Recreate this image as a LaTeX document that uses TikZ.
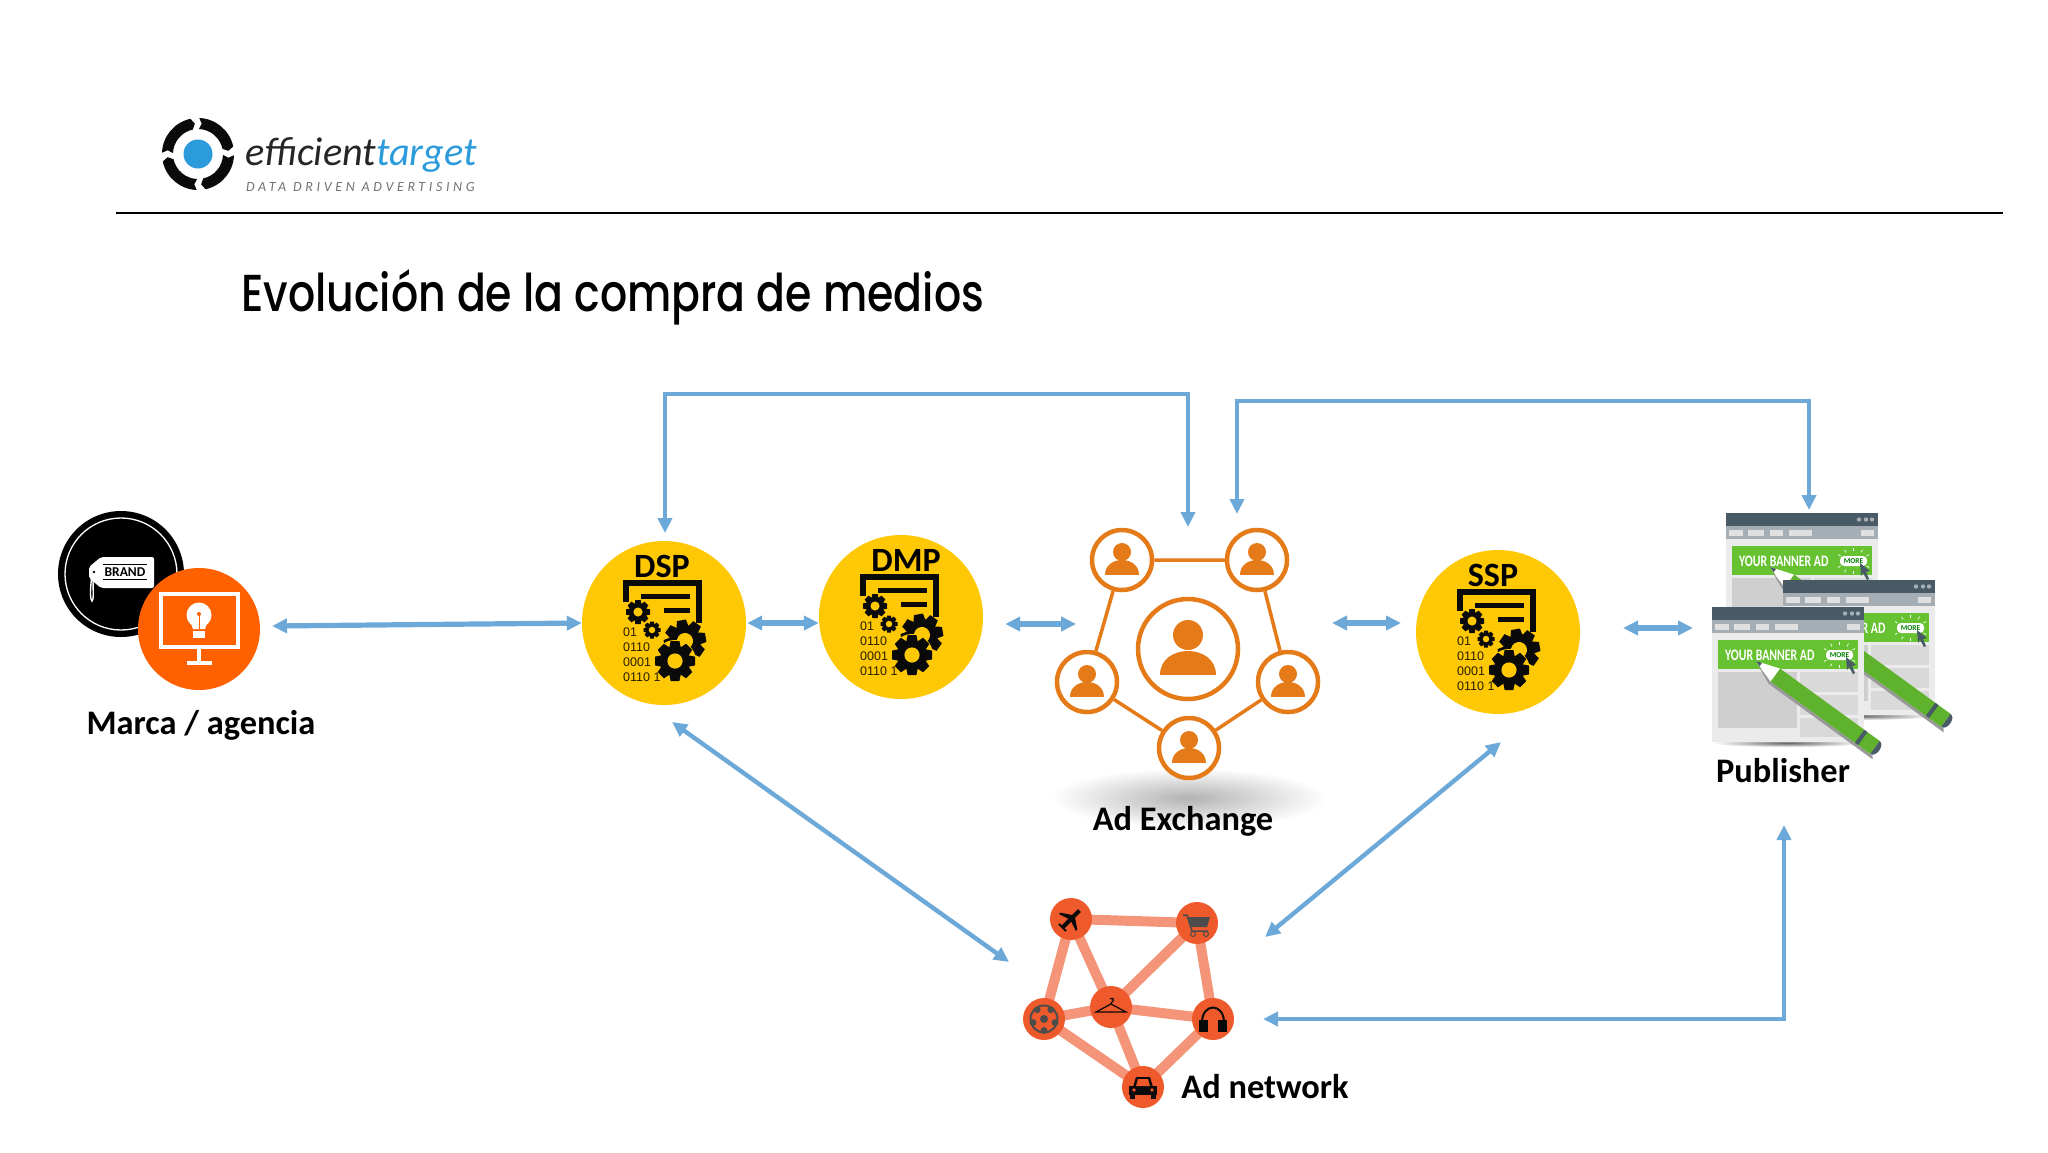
\documentclass[tikz,border=0pt]{standalone}
\usepackage{fontspec}
\setmainfont{Carlito}
\newfontfamily\titlefont[UprightFont=* Medium]{Poppins}
\newfontfamily\digitfont{Liberation Sans}
\usetikzlibrary{arrows.meta}
\usetikzlibrary{calc}
\usetikzlibrary{positioning}
\pgfdeclarelayer{background}
\pgfsetlayers{background,main}
\definecolor{arrowblue}{HTML}{6CA9D8}
\definecolor{logoblue}{HTML}{2C9BDB}
\definecolor{datayellow}{HTML}{FFC805}
\definecolor{brandorange}{HTML}{FF6000}
\definecolor{peopleorange}{HTML}{E57A18}
\definecolor{netnode}{HTML}{EE5A2B}
\definecolor{netlink}{HTML}{F4957A}
\definecolor{barslate}{HTML}{475A66}
\definecolor{barsilver}{HTML}{A5AEB5}
\definecolor{bannergreen}{HTML}{66C230}
\definecolor{iconblack}{HTML}{0A0A0A}
\tikzset{
  link/.style={draw=arrowblue,line width=4.4pt,{Triangle[length=15pt,width=14pt]}-{Triangle[length=15pt,width=14pt]}},
  thicklink/.style={link,line width=5.2pt},
  caption/.style={font=\fontsize{34.4}{36}\selectfont\bfseries,text=black,inner sep=0pt},
  icontext/.style={font=\fontsize{34}{36}\selectfont\bfseries,text=black,inner sep=0pt},
  datanode/.style={circle,fill=datayellow,minimum size=164pt,inner sep=0pt},
  peoplenode/.style={circle,draw=peopleorange,line width=4.5pt,fill=white,minimum size=60pt,inner sep=0pt},
  netball/.style={circle,fill=netnode,minimum size=42pt,inner sep=0pt},
  netedge/.style={draw=netlink,line width=10pt},
  gear/.pic={
    \foreach \a in {0,45,...,315}
      \fill[iconblack,rotate=\a] (-0.3,0.6) -- (-0.22,1) -- (0.22,1) -- (0.3,0.6) -- cycle;
    \fill[iconblack] (0,0) circle (0.74);
    \fill[datayellow] (0,0) circle (0.38);
  },
  dataicon/.pic={
    \draw[iconblack,line width=6pt] (-38,-21) -- (-38,-40) -- (35,-40) -- (35,0);
    \draw[iconblack,line width=5pt] (-23,-27) -- (26,-27);
    \draw[iconblack,line width=5pt] (0,-13) -- (26,-13);
    \pic[scale=12] at (-26,-11) {gear};
    \pic[scale=8.5] at (-12,7) {gear};
    \pic[scale=21,rotate=10] at (21,18) {gear};
    \fill[datayellow] (11,38) circle (21);
    \pic[scale=20] at (11,38) {gear};
    \node[font=\digitfont\fontsize{12.5}{14.8}\selectfont,align=left,anchor=north west,inner sep=0pt,text=black!85!datayellow] (bits) at (-41,5) {01\\0110\\0001\\0110 1};
  },
  person/.pic={
    \fill[peopleorange] (0,-8) circle (9);
    \fill[peopleorange] (-17,15) .. controls (-17,-5) and (17,-5) .. (17,15) -- cycle;
  },
  bigperson/.pic={
    \fill[peopleorange] (0,-14) circle (15);
    \fill[peopleorange] (-28,26) .. controls (-28,-6) and (28,-6) .. (28,26) -- cycle;
  },
  bannerwin/.pic={
    \shade[inner color=black!60,outer color=white] (76,136) ellipse (76 and 4);
    \fill[black!8] (0,0) rectangle (152,135);
    \fill[barslate] (0,0) rectangle (152,13);
    \fill[barsilver] (0,13) rectangle (152,26);
    \foreach \x in {133,140,146}
      \fill[barsilver] (\x,6.5) circle (2.2);
    \foreach \x/\w in {3/14,22/16,44/13,63/23,135/13}
      \fill[black!12] (\x,17) rectangle ++(\w,6);
    \fill[black!19] (6,65) rectangle (85,121);
    \foreach \y/\h in {65/20,88/20,111/19}
      \fill[black!15] (88,\y) rectangle (146,\y+\h);
    \fill[bannergreen] (6,33) rectangle (146,62);
    \node[font=\fontsize{16}{18}\selectfont\bfseries,text=white,inner sep=0pt,anchor=west] (bannertext) at (13,48) {\scalebox{0.735}[1]{YOUR BANNER AD}};
    \fill[white,rounded corners=4pt] (114,43) rectangle (141,53);
    \node[font=\fontsize{7.5}{9}\selectfont\bfseries,text=green!50!black,inner sep=0pt] (moretext) at (127.5,48) {MORE};
    \foreach \a in {-150,-120,-90,-60,-30,30,60,90,120,150}
      \draw[white,line width=0.7pt] (127.5,48) ++(\a:15 and 10) -- ++(\a:3);
    \fill[barslate] (134,50) -- (144,58) -- (140,59) -- (143,66) -- (141,67) -- (137,60) -- (135,63) -- cycle;
    % pencil
    \begin{scope}[shift={(44,54)},rotate=-36]
      \fill[black!40] (3,2) -- (24,8) -- (150,8) -- (152,11) -- (24,11) -- cycle;
      \fill[white] (0,0) -- (24,-8) -- (24,8) -- cycle;
      \fill[barslate] (0,0) -- (6,-2) -- (6,2) -- cycle;
      \fill[bannergreen!92!black] (24,-8) -- (147,-8) -- (147,8) -- (24,8) -- cycle;
      \fill[barslate] (128,-8) rectangle (132,8);
      \fill[barslate] (147,-8) .. controls (154,-8) and (154,8) .. (147,8) -- cycle;
    \end{scope}
  },
}
\begin{document}
\begin{tikzpicture}[x=1pt,y=-1pt]
  \useasboundingbox (0,0) rectangle (2048,1152);
  \begin{pgfonlayer}{background}
    \fill[white] (0,0) rectangle (2048,1152);
  \end{pgfonlayer}

  % logo and title
  \begin{scope}[shift={(198,154)}]
    \foreach \a in {-4,86,176,266}
      \fill[iconblack] (\a+6:36) arc[start angle=\a+6,end angle=\a+82,radius=36]
        -- (\a+88:30.5) -- (\a+82:25) arc[start angle=\a+82,end angle=\a+6,radius=25]
        -- (\a+11:30.5) -- cycle;
    \fill[logoblue] (0,0) circle (14.5);
  \end{scope}
  \node[font=\fontsize{40.3}{44}\selectfont\itshape,anchor=base west,inner sep=0pt] (logotext) at (245,165)
    {\textcolor{black!85}{efficient}\textcolor{logoblue}{target}};
  \node[font=\addfontfeatures{LetterSpace=26}\fontsize{14}{16}\selectfont\itshape,text=black!55,anchor=base west,inner sep=0pt] (tagline) at (246,191) {DATA DRIVEN ADVERTISING};
  \draw[line width=2pt] (116,213) -- (2003,213);
  \node[font=\titlefont\fontsize{52}{56}\selectfont,anchor=base west,inner sep=0pt] (title) at (241,311)
    {\scalebox{0.82}[1]{Evolución de la compra de medios}};

  % marca / agencia
  \node[circle,fill=black,minimum size=126pt,inner sep=0pt] (brand) at (121,574) {};
  \draw[white,line width=1.3pt] (brand) circle (56);
  \fill[white,rounded corners=2pt] (101,557) -- (154,557) -- (154,588) -- (101,588) -- (89,578) -- (89,567) -- cycle;
  \fill[black] (94,572) circle (1.3);
  \draw[white,line width=1.4pt] (92,574) .. controls (90,590) and (90,600) .. (92,601) .. controls (94,600) and (93,590) .. (93,578);
  \node[font=\fontsize{13.5}{15}\selectfont\bfseries,text=black,inner sep=0pt] (brandtext) at (125,572) {BRAND};
  \draw[black,line width=1pt] (103,564) -- (147,564) (103,579) -- (147,579);
  \node[circle,fill=brandorange,minimum size=122pt,inner sep=0pt,outer sep=12pt] (agency) at (199,629) {};
  \draw[white,line width=3.2pt] (161,594) rectangle (238,647);
  \draw[white,line width=3.2pt] (199,647) -- (199,663) (187,663) -- (212,663);
  \fill[white] (199,615) circle (12.5);
  \fill[white] (190,620) -- (208,620) -- (205,629) -- (193,629) -- cycle;
  \fill[white] (193,631) rectangle (205,638);
  \draw[brandorange,line width=1pt] (199,614) -- (199,629);
  \fill[brandorange] (199,614) circle (2);
  \node[caption,anchor=base] (marca) at (201,734) {Marca / agencia};

  % data circles
  \node[datanode] (dsp) at (664,623) {};
  \node[datanode] (dmp) at (901,617) {};
  \node[datanode] (ssp) at (1498,632) {};
  \pic (dspicon) at (dsp) {dataicon};
  \pic (dmpicon) at (dmp) {dataicon};
  \pic (sspicon) at (ssp) {dataicon};
  \node[icontext] (dsplabel) at ($(dsp)+(-2,-57)$) {DSP};
  \node[icontext] (dmplabel) at ($(dmp)+(5,-57)$) {DMP};
  \node[icontext] (ssplabel) at ($(ssp)+(-5,-57)$) {SSP};

  % ad exchange
  \shade[inner color=black!30,outer color=white] (1189,798) ellipse (138 and 30);
  \node[peoplenode,minimum size=100pt] (adx) at (1188,649) {};
  \node[peoplenode] (p1) at (1122,560) {};
  \node[peoplenode] (p2) at (1257,560) {};
  \node[peoplenode] (p3) at (1087,682) {};
  \node[peoplenode] (p4) at (1288,682) {};
  \node[peoplenode] (p5) at (1189,748) {};
  \draw[peopleorange,line width=3.5pt] (p1) -- (p2) (p2) -- (p4) (p4) -- (p5) (p5) -- (p3) (p3) -- (p1);
  \foreach \n in {p1,p2,p3,p4,p5}
    \pic at (\n) {person};
  \pic at (adx) {bigperson};
  \node[caption,anchor=base] (adxlabel) at (1183,830) {Ad Exchange};

  % publisher
  \pic at (1726,513) {bannerwin};
  \pic at (1783,580) {bannerwin};
  \pic at (1712,607) {bannerwin};
  \node[caption,anchor=base] (publisher) at (1783,782) {Publisher};
  \coordinate (pubtop) at (1809,510);
  \coordinate (publeft) at (1693,628);
  \coordinate (pubbottom) at (1784,825);

  % ad network
  \node[netball] (plane) at (1071,919) {};
  \node[netball] (cart) at (1197,923) {};
  \node[netball] (ball) at (1044,1019) {};
  \node[netball] (hanger) at (1111,1007) {};
  \node[netball] (phones) at (1213,1019) {};
  \node[netball] (car) at (1143,1087) {};
  \begin{pgfonlayer}{background}
    \draw[netedge] (plane.center) -- (cart.center) -- (phones.center) -- (car.center) -- (ball.center) -- (plane.center) -- (hanger.center) -- (cart.center);
    \draw[netedge] (ball.center) -- (hanger.center) -- (phones.center);
    \draw[netedge] (hanger.center) -- (car.center);
  \end{pgfonlayer}
  % plane
  \begin{scope}[shift={(plane)},rotate=-45]
    \fill[iconblack] (-2,-12) -- (2,-12) -- (2,12) -- (-2,12) -- cycle;
    \fill[iconblack] (-12,3) -- (0,-5) -- (12,3) -- (12,5) -- (0,1) -- (-12,5) -- cycle;
    \fill[iconblack] (-5,11) -- (5,11) -- (5,13) -- (-5,13) -- cycle;
  \end{scope}
  % cart
  \draw[black!70,line width=1.5pt] ($(cart)+(-14,-8)$) -- ($(cart)+(-10,-8)$) -- ($(cart)+(-5,8)$) -- ($(cart)+(11,8)$);
  \fill[black!70] ($(cart)+(-10,-6)$) -- ($(cart)+(13,-6)$) -- ($(cart)+(10,4)$) -- ($(cart)+(-7,4)$) -- cycle;
  \draw[black!70,line width=1pt] ($(cart)+(-4,11)$) circle (2.5) ($(cart)+(9,11)$) circle (2.5);
  % ball
  \draw[black!70,line width=2pt] (ball) circle (13.5);
  \fill[black!70] (ball) circle (4);
  \foreach \a in {18,90,162,234,306}
    \fill[black!70] ($(ball)+(\a:11.5)$) circle (3.4);
  % hanger
  \draw[iconblack,line width=1.2pt] ($(hanger)+(0,-3)$) -- ($(hanger)+(15,5)$) -- ($(hanger)+(-15,5)$) -- cycle;
  \draw[iconblack,line width=1.2pt] ($(hanger)+(0,-3)$) -- ($(hanger)+(1,-5)$) .. controls ($(hanger)+(4,-7)$) and ($(hanger)+(2,-10)$) .. ($(hanger)+(-1,-8)$);
  % headphones
  \draw[iconblack,line width=2pt] ($(phones)+(-11,5)$) .. controls ($(phones)+(-12,-17)$) and ($(phones)+(12,-17)$) .. ($(phones)+(11,5)$);
  \fill[iconblack] ($(phones)+(-14,1)$) rectangle ($(phones)+(-5,13)$);
  \fill[iconblack] ($(phones)+(14,1)$) rectangle ($(phones)+(5,13)$);
  % car
  \fill[iconblack] ($(car)+(-14,8)$) rectangle ($(car)+(14,-1)$);
  \fill[iconblack] ($(car)+(-10,0)$) -- ($(car)+(-7,-10)$) -- ($(car)+(7,-10)$) -- ($(car)+(10,0)$) -- cycle;
  \fill[netnode] ($(car)+(-7,-1)$) -- ($(car)+(-5,-8)$) -- ($(car)+(5,-8)$) -- ($(car)+(7,-1)$) -- cycle;
  \fill[iconblack] ($(car)+(-13,8)$) rectangle ($(car)+(-8,12)$);
  \fill[iconblack] ($(car)+(13,8)$) rectangle ($(car)+(8,12)$);
  \fill[netnode] ($(car)+(-9,3)$) circle (1.8) ($(car)+(9,3)$) circle (1.8);
  \node[caption,anchor=base] (adnetlabel) at (1265,1098) {Ad network};
  \coordinate (netleft) at (1009,962);
  \coordinate (netright) at (1265,937);
  \coordinate (neteast) at (1263,1019);

  % connectors
  \coordinate (dsptop) at (665,533);
  \coordinate (adxtopleft) at (1188,527);
  \coordinate (adxtopright) at (1237,514);
  \draw[link] (dsptop) -- (665,394) -| (adxtopleft);
  \draw[link] (adxtopright) -- (1237,401) -| (pubtop);
  \draw[thicklink] ([yshift=3pt]agency.east) -- (dsp.west);
  \draw[thicklink] ([xshift=1pt]dsp.east) -- (dsp.east -| dmp.west);
  \draw[thicklink] ([xshift=22pt,yshift=-7pt]dmp.east) -- ++(71,0);
  \draw[thicklink] (1332,623) -- (1401,623);
  \draw[thicklink] (1623,628) -- (publeft);
  \coordinate (dspbottom) at (672,722);
  \coordinate (sspbottom) at (1501,742);
  \draw[link] (dspbottom) -- (netleft);
  \draw[link] (sspbottom) -- (netright);
  \draw[link] (pubbottom) |- (neteast);
\end{tikzpicture}
\end{document}
